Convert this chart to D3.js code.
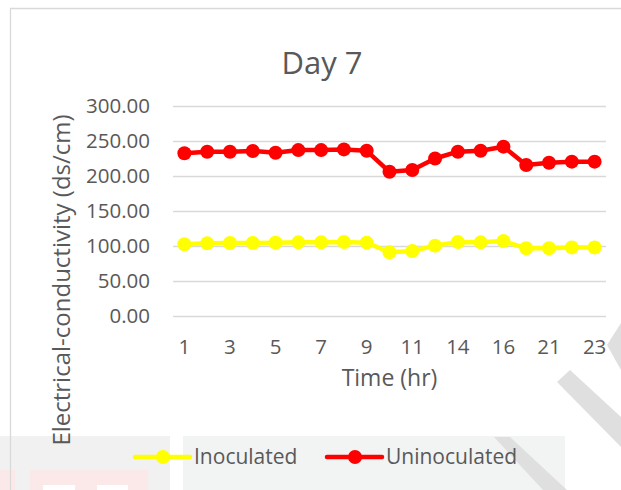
<!DOCTYPE html>
<html>
<head>
<meta charset="utf-8">
<script src="https://cdn.jsdelivr.net/npm/d3@7"></script>
<style>
  body { margin: 0; background: #fff; }
  text { font-family: "Open Sans", sans-serif; fill: #595959; }
</style>
</head>
<body>
<div id="chart"></div>
<script>
// hours on the x axis (only every other one gets a label)
const hours = ["1","2","3","4","5","6","7","8","9","10","11","13","14","15","16","20","21","22","23"];
const inoculated   = [102.4,103.8,104.3,104.3,104.8,105.2,105.2,105.7,104.8,91.0,92.9,100.5,105.7,105.2,107.0,96.7,96.7,98.0,98.0];
const uninoculated = [232.4,234.7,234.7,235.7,233.3,237.0,237.0,238.0,236.0,206.0,208.6,225.0,234.7,236.0,241.9,215.7,219.0,220.5,220.5];
const yTicks = [0, 50, 100, 150, 200, 250, 300];
const seriesNames = ["Inoculated", "Uninoculated"];
const seriesColors = ["#ffff00", "#ff0000"];

let width = 621,
    height = 490,
    margin = ({ top: 106, right: 15, bottom: 174, left: 173 }),
    innerWidth = width - margin.left - margin.right;

const svg = d3.select("#chart")
  .append("svg")
  .attr("width", width)
  .attr("height", height);

// scanned page background pieces below the chart
svg.append("rect").attr("x", 0).attr("y", 436).attr("width", 170).attr("height", 54).attr("fill", "#f1f1f1");
svg.append("rect").attr("x", 183).attr("y", 436).attr("width", 382).attr("height", 54).attr("fill", "#f2f3f3");
svg.append("rect").attr("x", 0).attr("y", 470).attr("width", 15).attr("height", 20).attr("fill", "#fbe9ea");
svg.append("rect").attr("x", 30).attr("y", 470).attr("width", 118).attr("height", 20).attr("fill", "#fbe9ea");
svg.append("rect").attr("x", 43).attr("y", 485).attr("width", 32).attr("height", 5).attr("fill", "#fff");
svg.append("rect").attr("x", 97).attr("y", 485).attr("width", 31).attr("height", 5).attr("fill", "#fff");
// watermark stripes
const stripes = [
  [[494,437],[510,437],[567,490],[543,490]],
  [[557,382],[570,370],[621,417],[621,447]],
  [[607,345],[621,323],[621,370]]
];
svg.selectAll(".stripe").data(stripes).join("polygon")
  .attr("points", d => d.map(p => p.join(",")).join(" "))
  .attr("fill", "#dfdfdf");

// chart frame (top and left edges visible)
svg.append("path")
  .attr("d", "M10.5,490 V8.5 H621")
  .attr("fill", "none")
  .attr("stroke", "#d9d9d9")
  .attr("stroke-width", 1.3);

let x = d3.scalePoint()
  .domain(hours)
  .range([margin.left, width - margin.right])
  .padding(0.5);

let y = d3.scaleLinear()
  .domain([0, 300])
  .range([height - margin.bottom, margin.top]);

// y axis with gridlines
const yAxis = svg.append("g")
  .attr("transform", `translate(${margin.left},0)`)
  .call(d3.axisLeft(y)
    .tickValues(yTicks)
    .tickSize(-innerWidth)
    .tickPadding(23)
    .tickFormat(d => d.toFixed(2))
  );
yAxis.select(".domain").remove();
yAxis.selectAll("line").attr("stroke", "#d9d9d9").attr("stroke-width", 1.3);
yAxis.selectAll("text")
  .attr("font-family", "Open Sans")
  .attr("font-size", 20.5)
  .attr("fill", "#595959");

// x labels, every other hour
svg.append("g")
  .selectAll("text")
  .data(hours.filter((d, i) => i % 2 === 0))
  .join("text")
  .attr("x", d => x(d))
  .attr("y", 354)
  .attr("text-anchor", "middle")
  .attr("font-size", 20.5)
  .text(d => d);

// title and axis titles
svg.append("text")
  .attr("x", 322).attr("y", 74)
  .attr("text-anchor", "middle")
  .attr("font-size", 31)
  .text("Day 7");

svg.append("text")
  .attr("x", (margin.left + width - margin.right) / 2).attr("y", 386)
  .attr("text-anchor", "middle")
  .attr("font-size", 23)
  .text("Time (hr)");

svg.append("text")
  .attr("transform", "translate(60,280) rotate(-90)")
  .attr("text-anchor", "middle")
  .attr("dominant-baseline", "central")
  .attr("font-size", 24)
  .text("Electrical-conductivity (ds/cm)");

let line = d3.line()
  .x((d, i) => x(hours[i]))
  .y(d => y(d));

[inoculated, uninoculated].forEach((values, k) => {
  let g = svg.append("g").attr("class", "series");
  g.append("path")
    .datum(values)
    .attr("fill", "none")
    .attr("stroke", seriesColors[k])
    .attr("stroke-width", 4.5)
    .attr("stroke-linejoin", "round")
    .attr("d", line);
  g.selectAll("circle")
    .data(values)
    .join("circle")
    .attr("cx", (d, i) => x(hours[i]))
    .attr("cy", d => y(d))
    .attr("r", 7)
    .attr("fill", seriesColors[k]);
});

// legend
const legendX = [135, 327];
seriesNames.forEach((name, k) => {
  let lg = svg.append("g").attr("transform", `translate(${legendX[k]},457)`);
  lg.append("line")
    .attr("x1", 0).attr("x2", 55)
    .attr("stroke", seriesColors[k])
    .attr("stroke-width", 4.5)
    .attr("stroke-linecap", "round");
  lg.append("circle").attr("cx", 28).attr("r", 7).attr("fill", seriesColors[k]);
  lg.append("text")
    .attr("x", 59).attr("y", 7)
    .attr("font-size", 21)
    .text(name);
});
</script>
</body>
</html>
